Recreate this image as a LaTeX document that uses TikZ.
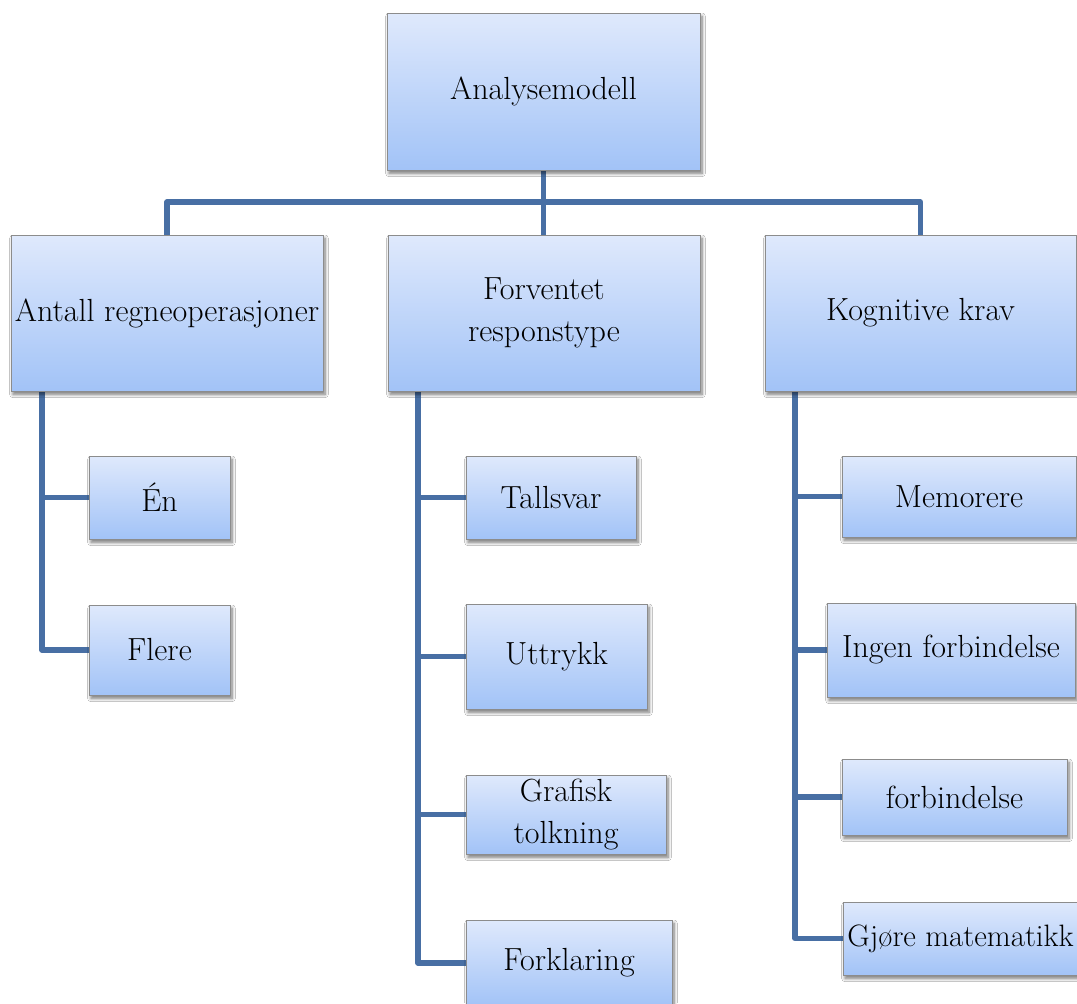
\documentclass[tikz,border=0pt]{standalone}
\usetikzlibrary{shadows.blur,backgrounds}
\definecolor{linkblue}{RGB}{72,111,164}
\definecolor{boxtop}{RGB}{223,233,252}
\definecolor{boxbottom}{RGB}{162,195,247}
\definecolor{boxedge}{RGB}{140,140,140}
\tikzset{
  box/.style={draw=boxedge, line width=0.75pt, top color=boxtop, bottom color=boxbottom,
    inner sep=0pt, align=center, font=\fontsize{24}{31.5}\selectfont,
    blur shadow={shadow xshift=1.5pt, shadow yshift=-2.5pt, shadow blur steps=6,
      shadow blur radius=2.5pt, shadow opacity=55}},
  link/.style={draw=linkblue, line width=3.8pt, line join=round}
}
% box from corner (x1,y1) to corner (x2,y2), in pixel units
\newcommand\boxat[6]{\node[box, minimum width={(#4-#2)*0.75pt}, minimum height={(#5-#3)*0.75pt}]
  (#1) at ({(#2+#4)/2},{(#3+#5)/2}) {#6};}
\begin{document}
\begin{tikzpicture}[x=0.75pt,y=-0.75pt]
\useasboundingbox (0,0) rectangle (1077,1003);

\boxat{top}{387}{13}{700}{170}{Analysemodell}
\boxat{ant}{11}{235}{323}{391}{Antall regneoperasjoner}
\boxat{forv}{388}{235}{700}{391}{Forventet\\responstype}
\boxat{kog}{765}{235}{1076}{391}{Kognitive krav}

\boxat{en}{89}{456}{230}{539}{Én}
\boxat{flere}{89}{605}{230}{695}{Flere}

\boxat{tall}{466}{456}{636}{539}{Tallsvar}
\boxat{utt}{466}{604}{647}{709}{Uttrykk}
\boxat{graf}{466}{775}{666}{854}{Grafisk\\tolkning}
\boxat{forkl}{466}{920}{672}{1006}{Forklaring}

\boxat{mem}{842}{456}{1076}{537}{Memorere}
\boxat{ingen}{827}{603}{1075}{697}{Ingen forbindelse}
\boxat{forb}{842}{759}{1067}{835}{forbindelse}
\boxat{gjore}{843}{902}{1078}{975}{\fontsize{23.2}{31.5}\selectfont Gjøre matematikk}

\coordinate (hub) at (543,202);
\coordinate (antstem) at (42,391);
\coordinate (forvstem) at (418,391);
\coordinate (kogstem) at (795,391);

\begin{scope}[on background layer]
  \fill[white] (0,0) rectangle (1077,1003);
  \draw[link] (top.south) -- (top.south |- forv.north);
  \draw[link] (ant.north) |- (hub) -| (kog.north);
  \draw[link] (antstem) |- (en.west);
  \draw[link] (antstem) |- (flere.west);
  \draw[link] (forvstem) |- (tall.west);
  \draw[link] (forvstem) |- (utt.west);
  \draw[link] (forvstem) |- (graf.west);
  \draw[link] (forvstem) |- (forkl.west);
  \draw[link] (kogstem) |- (mem.west);
  \draw[link] (kogstem) |- (ingen.west);
  \draw[link] (kogstem) |- (forb.west);
  \draw[link] (kogstem) |- (gjore.west);
\end{scope}
\end{tikzpicture}
\end{document}
